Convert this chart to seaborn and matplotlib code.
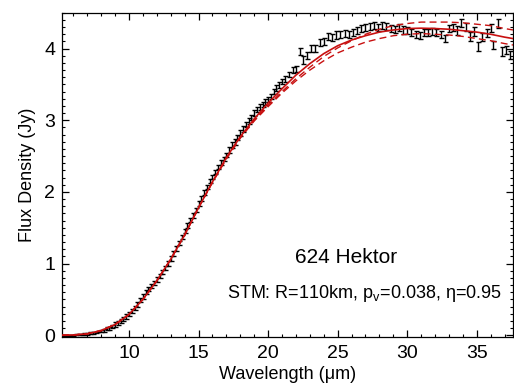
import matplotlib
matplotlib.use("Agg")
import matplotlib.pyplot as plt
import seaborn as sns
from matplotlib.ticker import MultipleLocator

# IRS spectrum of 624 Hektor (three pieces)
wave_a = [5.2, 5.4, 5.6, 5.8, 6.0, 6.2, 6.4, 6.6, 6.8, 7.0, 7.2, 7.4, 7.6, 7.8, 8.0,
          8.2, 8.4, 8.6, 8.8, 9.0, 9.2, 9.4, 9.6, 9.8, 10.0, 10.2, 10.4, 10.6, 10.8, 11.0,
          11.2, 11.4, 11.6, 11.8, 12.0, 12.2, 12.4, 12.6, 12.8, 13.0, 13.2, 13.4, 13.6, 13.8, 14.0]
flux_a = [0.00, 0.00, 0.00, 0.00, 0.00, 0.01, 0.01, 0.01, 0.02, 0.02, 0.03, 0.03, 0.04, 0.05, 0.06,
          0.07, 0.09, 0.10, 0.12, 0.15, 0.17, 0.20, 0.23, 0.26, 0.30, 0.34, 0.38, 0.43, 0.49, 0.54,
          0.60, 0.65, 0.69, 0.73, 0.78, 0.83, 0.88, 0.94, 1.00, 1.07, 1.14, 1.21, 1.29, 1.37, 1.45]
err_a = [0.01, 0.01, 0.01, 0.01, 0.01, 0.01, 0.01, 0.01, 0.01, 0.01, 0.01, 0.01, 0.01, 0.01, 0.02,
         0.02, 0.02, 0.02, 0.02, 0.03, 0.03, 0.03, 0.03, 0.03, 0.03, 0.03, 0.03, 0.03, 0.03, 0.03,
         0.03, 0.03, 0.03, 0.03, 0.03, 0.03, 0.03, 0.03, 0.03, 0.03, 0.03, 0.03, 0.03, 0.03, 0.03]

wave_b = [14.2, 14.4, 14.6, 14.8, 15.0, 15.2, 15.4, 15.6, 15.8, 16.0, 16.2, 16.4, 16.6, 16.8,
          17.0, 17.2, 17.4, 17.6, 17.8, 18.0, 18.2, 18.4, 18.6, 18.8, 19.0, 19.2, 19.4, 19.6,
          19.8, 20.0, 20.2, 20.4, 20.6, 20.8, 21.0]
flux_b = [1.53, 1.61, 1.67, 1.75, 1.84, 1.91, 1.99, 2.07, 2.15, 2.21, 2.28, 2.35, 2.41, 2.46,
          2.52, 2.58, 2.65, 2.70, 2.76, 2.82, 2.88, 2.94, 2.99, 3.04, 3.10, 3.15, 3.19, 3.22,
          3.26, 3.29, 3.33, 3.40, 3.45, 3.49, 3.54]
err_b = [0.03, 0.03, 0.03, 0.03, 0.03, 0.03, 0.03, 0.03, 0.03, 0.03, 0.03, 0.03, 0.03, 0.03,
         0.03, 0.04, 0.04, 0.04, 0.04, 0.04, 0.04, 0.04, 0.04, 0.04, 0.04, 0.04, 0.04, 0.04,
         0.04, 0.04, 0.04, 0.04, 0.04, 0.04, 0.04]

wave_c = [21.2, 21.5, 21.8, 22.0, 22.3, 22.5, 22.8, 23.1, 23.4, 23.7, 24.0, 24.3, 24.6, 24.9,
          25.2, 25.5, 25.8, 26.1, 26.4, 26.7, 27.0, 27.3, 27.6, 27.9, 28.2, 28.5, 28.8, 29.1,
          29.4, 29.7, 30.0, 30.3, 30.6, 30.9, 31.2, 31.5, 31.8, 32.1, 32.4, 32.7, 33.0, 33.3,
          33.6, 33.9, 34.2, 34.5, 34.8, 35.1, 35.4, 35.7, 36.0, 36.2, 36.5, 36.8, 37.1, 37.4]
flux_c = [3.58, 3.64, 3.70, 3.72, 3.96, 3.84, 3.90, 4.00, 4.00, 4.08, 4.10, 4.17, 4.16, 4.19,
          4.20, 4.21, 4.20, 4.23, 4.25, 4.28, 4.30, 4.31, 4.32, 4.30, 4.32, 4.31, 4.28, 4.27,
          4.29, 4.26, 4.25, 4.22, 4.20, 4.18, 4.22, 4.23, 4.24, 4.22, 4.20, 4.14, 4.28, 4.29,
          4.25, 4.36, 4.30, 4.17, 4.24, 4.03, 4.16, 4.22, 4.29, 4.05, 4.35, 3.96, 3.98, 3.91]
err_c = [0.04, 0.04, 0.04, 0.04, 0.05, 0.05, 0.05, 0.05, 0.05, 0.05, 0.05, 0.05, 0.05, 0.05,
         0.05, 0.05, 0.05, 0.05, 0.05, 0.05, 0.05, 0.05, 0.05, 0.05, 0.05, 0.05, 0.05, 0.05,
         0.05, 0.05, 0.05, 0.05, 0.05, 0.05, 0.05, 0.05, 0.05, 0.05, 0.05, 0.05, 0.05, 0.05,
         0.06, 0.06, 0.06, 0.06, 0.06, 0.06, 0.06, 0.06, 0.06, 0.06, 0.06, 0.06, 0.06, 0.06]

# STM model curves
model_wave = [5.2, 6, 7, 8, 9, 10, 11, 12, 13, 14, 15, 16, 17, 18, 19, 20, 21, 22, 23, 24,
              25, 26, 27, 28, 29, 30, 31, 32, 33, 34, 35, 36, 37, 37.6]
model_best = [0.00, 0.004, 0.02, 0.065, 0.15, 0.29, 0.50, 0.76, 1.06, 1.40, 1.78, 2.14, 2.48,
              2.77, 3.02, 3.24, 3.44, 3.63, 3.79, 3.93, 4.04, 4.12, 4.18, 4.23, 4.26, 4.28,
              4.285, 4.28, 4.27, 4.25, 4.23, 4.20, 4.16, 4.14]
model_hi = [0.00, 0.004, 0.02, 0.065, 0.15, 0.29, 0.50, 0.76, 1.06, 1.40, 1.78, 2.14, 2.47,
            2.76, 3.00, 3.21, 3.40, 3.58, 3.74, 3.89, 4.01, 4.11, 4.20, 4.27, 4.32, 4.35,
            4.37, 4.37, 4.37, 4.36, 4.34, 4.32, 4.28, 4.26]
model_lo = [0.00, 0.004, 0.02, 0.065, 0.15, 0.29, 0.50, 0.76, 1.06, 1.40, 1.78, 2.13, 2.46,
            2.75, 2.99, 3.19, 3.38, 3.55, 3.70, 3.83, 3.94, 4.02, 4.09, 4.14, 4.18, 4.20,
            4.21, 4.20, 4.19, 4.17, 4.14, 4.11, 4.07, 4.05]

sns.set_theme(style="ticks")
plt.rcParams["font.family"] = ["Liberation Sans", "DejaVu Sans"]
plt.rcParams["mathtext.fontset"] = "custom"
plt.rcParams["mathtext.rm"] = "Liberation Sans"
plt.rcParams["mathtext.it"] = "Liberation Sans"
plt.rcParams["text.color"] = "black"
plt.rcParams["axes.labelcolor"] = "black"

fig = plt.figure(figsize=(5.14, 3.87), dpi=100)
ax = fig.add_axes([0.121, 0.130, 0.877, 0.837])

red = "#c81010"
for w, f, e in [(wave_a, flux_a, err_a), (wave_b, flux_b, err_b), (wave_c, flux_c, err_c)]:
    ax.errorbar(w, f, yerr=e, fmt="none", ecolor="black", elinewidth=1.0,
                capsize=1.8, capthick=1.0, zorder=2)

sns.lineplot(x=model_wave, y=model_best, ax=ax, color=red, linewidth=1.2, zorder=3)
sns.lineplot(x=model_wave, y=model_hi, ax=ax, color=red, linewidth=1.0,
             linestyle=(0, (5, 3)), zorder=3)
sns.lineplot(x=model_wave, y=model_lo, ax=ax, color=red, linewidth=1.0,
             linestyle=(0, (5, 3)), zorder=3)

ax.set_xlim(5.2, 37.6)
ax.set_ylim(-0.02, 4.5)
ax.xaxis.set_major_locator(MultipleLocator(5))
ax.xaxis.set_minor_locator(MultipleLocator(1))
ax.yaxis.set_major_locator(MultipleLocator(1))
ax.yaxis.set_minor_locator(MultipleLocator(0.1))
ax.tick_params(which="both", direction="in", top=True, right=True, colors="black",
               labelsize=14)
ax.tick_params(which="major", length=5, width=0.9)
ax.tick_params(which="minor", length=2.5, width=0.8)
ax.tick_params(axis="x", pad=6)
ax.tick_params(axis="y", pad=5)
for s in ax.spines.values():
    s.set_color("black")
    s.set_linewidth(0.9)

ax.set_xlabel("Wavelength (\u03bcm)", fontsize=13, labelpad=3, color="black")
ax.set_ylabel("Flux Density (Jy)", fontsize=13, labelpad=6, color="black")

ax.text(25.6, 1.09, "624 Hektor", fontsize=15, ha="center", va="center", color="black")
ax.text(26.9, 0.58, "STM: R=110km, p$_\\mathrm{v}$=0.038, \u03b7=0.95",
        fontsize=13, ha="center", va="center", color="black")

fig.savefig("out.png", dpi=100)
